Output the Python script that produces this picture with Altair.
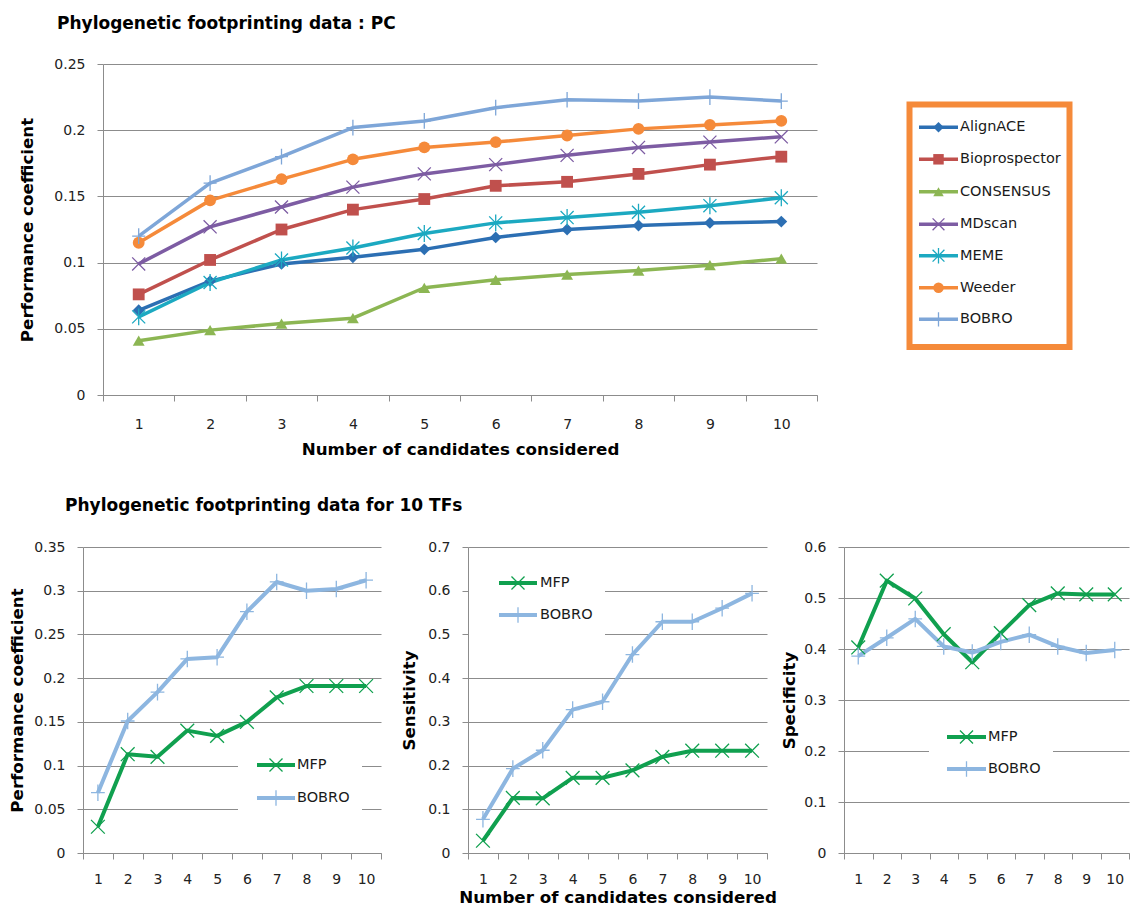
import altair as alt
import pandas as pd

# ---------------- data ----------------
candidates = [1, 2, 3, 4, 5, 6, 7, 8, 9, 10]

pc_series = ["AlignACE", "Bioprospector", "CONSENSUS", "MDscan", "MEME", "Weeder", "BOBRO"]
pc_alignace = [0.064, 0.086, 0.099, 0.104, 0.110, 0.119, 0.125, 0.128, 0.130, 0.131]
pc_bioprospector = [0.076, 0.102, 0.125, 0.140, 0.148, 0.158, 0.161, 0.167, 0.174, 0.180]
pc_consensus = [0.041, 0.049, 0.054, 0.058, 0.081, 0.087, 0.091, 0.094, 0.098, 0.103]
pc_mdscan = [0.099, 0.127, 0.142, 0.157, 0.167, 0.174, 0.181, 0.187, 0.191, 0.195]
pc_meme = [0.059, 0.085, 0.102, 0.111, 0.122, 0.130, 0.134, 0.138, 0.143, 0.149]
pc_weeder = [0.115, 0.147, 0.163, 0.178, 0.187, 0.191, 0.196, 0.201, 0.204, 0.207]
pc_bobro = [0.120, 0.160, 0.180, 0.202, 0.207, 0.217, 0.223, 0.222, 0.225, 0.222]

tf_series = ["MFP", "BOBRO"]
tf_pc_mfp = [0.030, 0.113, 0.110, 0.140, 0.134, 0.150, 0.178, 0.191, 0.191, 0.191]
tf_pc_bobro = [0.069, 0.151, 0.184, 0.222, 0.224, 0.276, 0.310, 0.300, 0.302, 0.312]
tf_sens_mfp = [0.028, 0.126, 0.125, 0.172, 0.172, 0.189, 0.220, 0.234, 0.234, 0.234]
tf_sens_bobro = [0.077, 0.193, 0.235, 0.328, 0.346, 0.454, 0.529, 0.529, 0.560, 0.594]
tf_spec_mfp = [0.403, 0.534, 0.499, 0.429, 0.374, 0.431, 0.486, 0.509, 0.507, 0.507]
tf_spec_bobro = [0.386, 0.422, 0.459, 0.405, 0.393, 0.414, 0.428, 0.405, 0.392, 0.398]

pc_ticks = [0, 0.05, 0.1, 0.15, 0.2, 0.25]
tf_pc_ticks = [0, 0.05, 0.1, 0.15, 0.2, 0.25, 0.3, 0.35]
tf_sens_ticks = [0, 0.1, 0.2, 0.3, 0.4, 0.5, 0.6, 0.7]
tf_spec_ticks = [0, 0.1, 0.2, 0.3, 0.4, 0.5, 0.6]

top_title = "Phylogenetic footprinting data : PC"
bottom_title = "Phylogenetic footprinting data for 10 TFs"
x_title = "Number of candidates considered"

# ---------------- styles ----------------
X_PATH = "M-1,-1L1,1M-1,1L1,-1"
AST_PATH = "M-1,-1L1,1M-1,1L1,-1M0,-1.3L0,1.3"
PLUS_PATH = "M-1,0L1,0M0,-1.2L0,1.2"

pc_colors = ["#2C6FB3", "#C0504D", "#8CB653", "#7D5CA3", "#1CA9C1", "#F58A3A", "#7EA6D8"]
pc_shapes = ["diamond", "square", "triangle-up", X_PATH, AST_PATH, "circle", PLUS_PATH]
pc_filled = [True, True, True, False, False, True, False]

tf_colors = ["#10A04F", "#8DB6E0"]
tf_shapes = [X_PATH, PLUS_PATH]
tf_filled = [False, False]

LABEL_FONT = "DejaVu Sans"
TITLE_FONT = "DejaVu Sans"
TITLE_SIZE = 17
AXIS_TITLE_SIZE = 16.7
LABEL_SIZE = 14
LEGEND_SIZE = 14.5


def long_df(field, names, arrays):
    rows = []
    for name, arr in zip(names, arrays):
        for k, v in zip(candidates, arr):
            rows.append({field: name, "k": k, "v": v})
    return pd.DataFrame(rows)


def xenc(title, tpad, lpad, rng=None):
    sc = dict(type="band", domain=candidates, paddingInner=0, paddingOuter=0)
    if rng is not None:
        sc["range"] = rng
    return alt.X(
        "k:O",
        bandPosition=0.5,
        scale=alt.Scale(**sc),
        axis=alt.Axis(title=title, tickBand="extent", labelAngle=0,
                      titlePadding=tpad, labelPadding=lpad),
    )


def yenc(ymax, ticks, fmt, title, extent, tpad, offset=0):
    return alt.Y(
        "v:Q",
        scale=alt.Scale(domain=[0, ymax], nice=False, zero=True),
        axis=alt.Axis(values=ticks, format=fmt, title=title, offset=offset,
                      minExtent=extent, maxExtent=extent, titlePadding=tpad),
    )


def series_layers(df, field, names, colors, shapes, filled, X, Y, lw, fsize, ssize):
    color = alt.Color(f"{field}:N", scale=alt.Scale(domain=names, range=colors), legend=None)
    shape = alt.Shape(f"{field}:N", scale=alt.Scale(domain=names, range=shapes), legend=None)
    base = alt.Chart(df)
    layers = [base.mark_line(strokeWidth=lw, strokeJoin="round").encode(x=X, y=Y, color=color)]
    fnames = [n for n, f in zip(names, filled) if f]
    snames = [n for n, f in zip(names, filled) if not f]
    if fnames:
        layers.append(
            base.transform_filter(alt.FieldOneOfPredicate(field=field, oneOf=fnames))
            .mark_point(filled=True, size=fsize, opacity=1)
            .encode(x=X, y=Y, color=color, shape=shape)
        )
    if snames:
        layers.append(
            base.transform_filter(alt.FieldOneOfPredicate(field=field, oneOf=snames))
            .mark_point(filled=False, size=ssize, opacity=1, strokeWidth=1.3)
            .encode(x=X, y=Y, color=color, shape=shape)
        )
    return layers


def legend_layers(names, colors, shapes, filled, x0, x1, xt, ys, lw, fsize, ssize, text_size):
    layers = []
    for name, col, shp, fl, yy in zip(names, colors, shapes, filled, ys):
        base = alt.Chart(pd.DataFrame({"label": [name]}))
        layers.append(base.mark_rule(color=col, strokeWidth=lw).encode(
            x=alt.value(x0), x2=alt.value(x1), y=alt.value(yy)))
        layers.append(base.mark_point(shape=shp, filled=fl, size=fsize if fl else ssize,
                                      color=col, strokeWidth=1.3, opacity=1).encode(
            x=alt.value((x0 + x1) / 2), y=alt.value(yy)))
        layers.append(base.mark_text(align="left", baseline="middle", font=LABEL_FONT,
                                     fontSize=text_size, color="#1a1a1a").encode(
            x=alt.value(xt), y=alt.value(yy), text="label:N"))
    return layers


def box(x0, x1, y0, y1, **kw):
    return alt.Chart(pd.DataFrame({"b": [0]})).mark_rect(**kw).encode(
        x=alt.value(x0), x2=alt.value(x1), y=alt.value(y0), y2=alt.value(y1))


def spacer(x, align):
    return alt.Chart(pd.DataFrame({"b": [0]})).mark_text(
        text=".", opacity=0, align=align, fontSize=8).encode(x=alt.value(x), y=alt.value(100))


# ---------------- top chart ----------------
# the plot group starts 20px left of the drawn y axis so that it lines up with
# the first lower panel (concat aligns the first column's origins)
SHIFT = 20
TW, TH = 714, 331
pc_df = long_df("series", pc_series, [pc_alignace, pc_bioprospector, pc_consensus, pc_mdscan,
                                      pc_meme, pc_weeder, pc_bobro])
Xt = xenc(x_title, tpad=10, lpad=16, rng=[SHIFT, SHIFT + TW])
Yt = yenc(0.25, pc_ticks, ".2~f", "Performance coefficient", 48, 19, offset=-SHIFT)

top_layers = series_layers(pc_df, "series", pc_series, pc_colors, pc_shapes, pc_filled,
                           Xt, Yt, 3.5, 140, 170)
top_layers.append(box(SHIFT + 806.5, SHIFT + 966.5, 40.5, 283,
                      fill="white", stroke="#F58A3A", strokeWidth=6))
top_layers += legend_layers(pc_series, pc_colors, pc_shapes, pc_filled,
                            SHIFT + 816, SHIFT + 855, SHIFT + 857,
                            [63.3, 95.3, 127.7, 160.3, 191.7, 223.7, 255.3],
                            3.5, 110, 140, LEGEND_SIZE)
# heading of the lower panel group
top_layers.append(
    alt.Chart(pd.DataFrame({"t": [bottom_title]})).mark_text(
        align="left", baseline="middle", font=TITLE_FONT, fontSize=TITLE_SIZE,
        fontWeight="bold", color="#000000").encode(
        x=alt.value(-18), y=alt.value(441.5), text="t:N")
)

top_chart = alt.layer(*top_layers).properties(
    width=TW + SHIFT, height=TH,
    title=alt.TitleParams(top_title, anchor="start", frame="group", dx=-26, offset=24),
)

# ---------------- bottom charts ----------------
BH = 306


def tf_panel(mfp, bobro, ymax, ticks, fmt, ytitle, extent, tpad, width, xtitle,
             legbox, legys, legx, extra=None):
    df = long_df("method", tf_series, [mfp, bobro])
    X = xenc(xtitle, tpad=3, lpad=13)
    Y = yenc(ymax, ticks, fmt, ytitle, extent, tpad)
    layers = []
    if extra is not None:
        layers.append(extra)
    layers.append(box(*legbox, fill="white"))
    layers += series_layers(df, "method", tf_series, tf_colors, tf_shapes, tf_filled,
                            X, Y, 4, 150, 190)
    layers += legend_layers(tf_series, tf_colors, tf_shapes, tf_filled,
                            legx[0], legx[1], legx[2], legys, 4, 150, 170, LEGEND_SIZE)
    return alt.layer(*layers).properties(width=width, height=BH)


c1 = tf_panel(tf_pc_mfp, tf_pc_bobro, 0.35, tf_pc_ticks, ".2~f", "Performance coefficient",
              48, 9, 298, None, (155, 279, 204, 269), [218, 251], (174, 212, 214),
              extra=spacer(298 + 9, "right"))
c2 = tf_panel(tf_sens_mfp, tf_sens_bobro, 0.7, tf_sens_ticks, ".1~f", "Sensitivity",
              39, 11, 299, x_title, (1, 137, 16, 101), [36, 68], (31, 69, 72))
c3 = tf_panel(tf_spec_mfp, tf_spec_bobro, 0.6, tf_spec_ticks, ".1~f", "Specificity",
              39, 7, 285, None, (85, 209, 163, 243), [190, 222], (103, 142, 144))

bottom_row = alt.hconcat(c1, alt.hconcat(c2, c3, spacing=4), spacing=11)

chart = alt.vconcat(alt.hconcat(top_chart), bottom_row, spacing=26).resolve_scale(
    color="independent", shape="independent"
).properties(
    padding={"left": 1, "top": 7, "right": 0, "bottom": 0}
).configure_axis(
    domainColor="#8C8C8C", gridColor="#8C8C8C", tickColor="#8C8C8C",
    labelFont=LABEL_FONT, labelFontSize=LABEL_SIZE, labelColor="#222222",
    titleFont=TITLE_FONT, titleFontSize=AXIS_TITLE_SIZE, titleFontWeight="bold",
    titleColor="#000000",
).configure_axisY(
    grid=True, tickSize=6, labelPadding=12,
).configure_axisX(
    grid=False, tickSize=6,
).configure_view(
    stroke=None
).configure_title(
    font=TITLE_FONT, fontSize=TITLE_SIZE, fontWeight="bold", color="#000000"
)

chart.save("out.html", embed_options={"renderer": "svg", "actions": False})
